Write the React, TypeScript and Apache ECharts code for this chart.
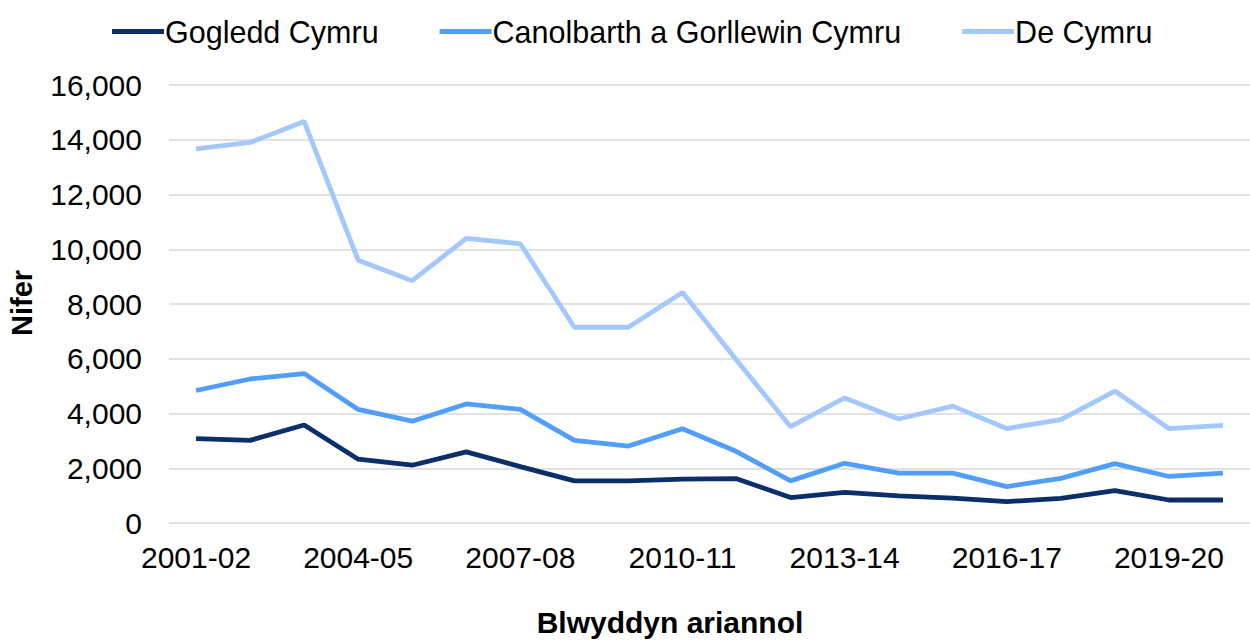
import React, { useEffect, useRef } from "react";
import * as echarts from "echarts";

const categories = [
  "2001-02", "2002-03", "2003-04", "2004-05", "2005-06", "2006-07", "2007-08",
  "2008-09", "2009-10", "2010-11", "2011-12", "2012-13", "2013-14", "2014-15",
  "2015-16", "2016-17", "2017-18", "2018-19", "2019-20", "2020-21",
];

const gogleddCymru = [
  3080, 3020, 3580, 2330, 2110, 2600, 2060, 1540, 1540, 1600,
  1620, 930, 1120, 990, 910, 780, 900, 1180, 840, 840,
];

const canolbarthGorllewin = [
  4840, 5260, 5460, 4150, 3720, 4350, 4150, 3020, 2810, 3440,
  2610, 1540, 2180, 1820, 1820, 1330, 1630, 2170, 1700, 1820,
];

const deCymru = [
  13670, 13900, 14670, 9600, 8850, 10400, 10200, 7150, 7150, 8420,
  5950, 3520, 4570, 3800, 4270, 3450, 3780, 4820, 3450, 3570,
];

const seriesNames = ["Gogledd Cymru", "Canolbarth a Gorllewin Cymru", "De Cymru"];
const seriesColors = ["#0B2F6B", "#529EFF", "#A2C8FF"];

const FONT = "'Liberation Sans', Arial, sans-serif";

export default function App() {
  const ref = useRef<HTMLDivElement>(null);

  useEffect(() => {
    if (!ref.current) return;
    const chart = echarts.init(ref.current, null, { renderer: "svg" });
    const data = [gogleddCymru, canolbarthGorllewin, deCymru];
    chart.setOption({
      animation: false,
      backgroundColor: "#ffffff",
      textStyle: { fontFamily: FONT },
      legend: {
        top: 11,
        left: 107,
        itemWidth: 52,
        itemHeight: 5,
        itemGap: 61,
        icon: "rect",
        textStyle: { fontFamily: FONT, fontSize: 30.5, color: "#000", padding: [0, 0, 0, -4] },
        data: seriesNames,
      },
      grid: { left: 169, right: 0, top: 85, bottom: 118, containLabel: false },
      xAxis: {
        type: "category",
        data: categories,
        boundaryGap: true,
        axisLine: { show: false },
        axisTick: { show: false },
        axisLabel: {
          interval: 2,
          margin: 19,
          fontFamily: FONT,
          fontSize: 30,
          color: "#000",
        },
      },
      yAxis: {
        type: "value",
        min: 0,
        max: 16000,
        interval: 2000,
        axisLine: { show: false },
        axisTick: { show: false },
        splitLine: { lineStyle: { color: "#D9D9D9", width: 1.5 } },
        axisLabel: {
          margin: 27,
          fontFamily: FONT,
          fontSize: 30,
          color: "#000",
          formatter: (v: number) => v.toLocaleString("en-US"),
        },
      },
      graphic: [
        {
          type: "text",
          x: 670,
          y: 622,
          style: {
            text: "Blwyddyn ariannol",
            font: `bold 30px ${FONT}`,
            fill: "#000",
            textAlign: "center",
            textVerticalAlign: "middle",
          },
        },
        {
          type: "text",
          x: 22,
          y: 303,
          rotation: Math.PI / 2,
          style: {
            text: "Nifer",
            font: `bold 29px ${FONT}`,
            fill: "#000",
            textAlign: "center",
            textVerticalAlign: "middle",
          },
        },
      ],
      series: data.map((d, i) => ({
        name: seriesNames[i],
        type: "line",
        data: d,
        symbol: "none",
        lineStyle: { color: seriesColors[i], width: 4.8 },
        itemStyle: { color: seriesColors[i] },
        z: 3 - i,
      })),
    });
    return () => chart.dispose();
  }, []);

  return (
    <div
      ref={ref}
      style={{ position: "fixed", left: 0, top: 0, width: 1250, height: 641 }}
    />
  );
}
